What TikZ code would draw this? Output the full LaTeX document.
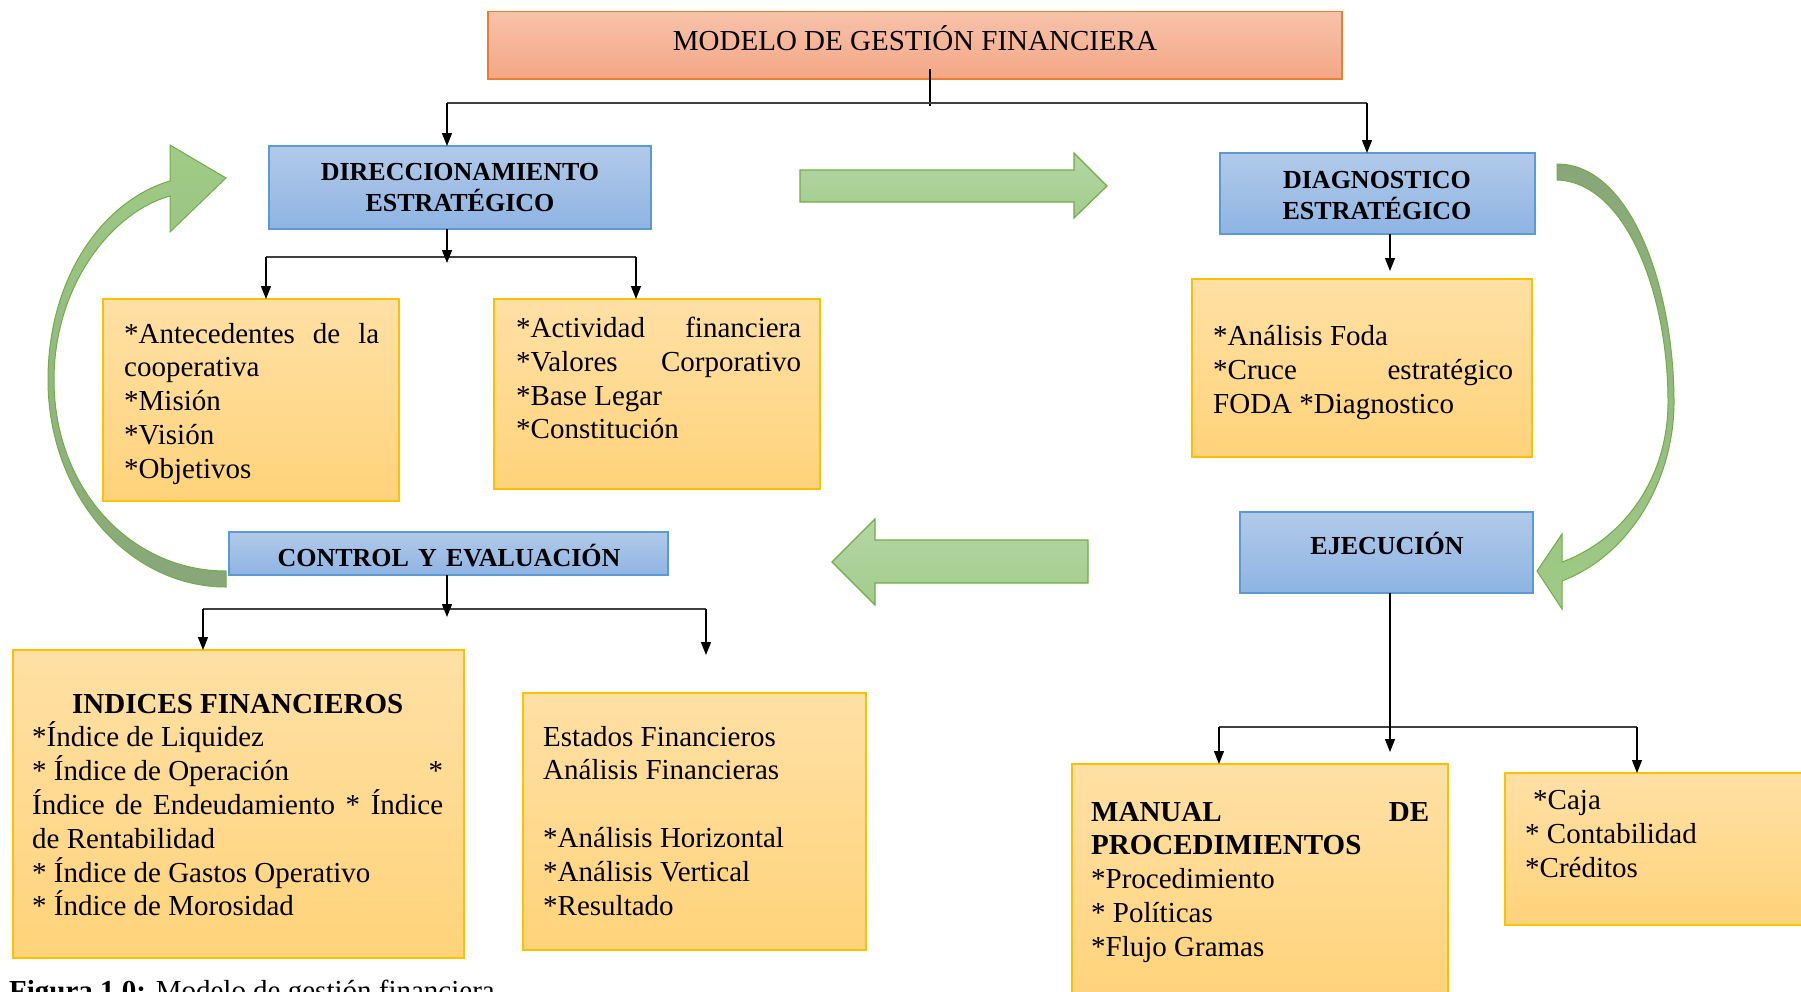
\documentclass[tikz,border=0pt]{standalone}
\usepackage{fontspec}
\setmainfont{Liberation Serif}
\usetikzlibrary{arrows.meta}

\definecolor{titleTop}{RGB}{247,194,170}
\definecolor{titleBot}{RGB}{244,167,133}
\definecolor{titleLine}{RGB}{237,125,49}
\definecolor{blueTop}{RGB}{178,202,233}
\definecolor{blueBot}{RGB}{142,180,227}
\definecolor{blueLine}{RGB}{91,155,213}
\definecolor{orTop}{RGB}{255,224,165}
\definecolor{orBot}{RGB}{255,211,122}
\definecolor{orLine}{RGB}{255,192,0}
\definecolor{grTop}{RGB}{181,214,165}
\definecolor{grBot}{RGB}{162,204,140}
\definecolor{grLine}{RGB}{112,173,71}
\definecolor{curveDark}{RGB}{136,166,120}
\definecolor{curveLight}{RGB}{160,204,134}
\definecolor{busGrey}{RGB}{64,64,64}

% line break that leaves a following * alone
\newcommand{\nxl}{\\\relax}
% a line spread over the full text width
\newcommand{\jline}[1]{\makebox[\linewidth][s]{\spaceskip=0pt\xspaceskip=0pt #1}}
% font's own interword spacing inside centred headings
\newcommand{\natsp}{\spaceskip=0pt\xspaceskip=0pt}

\begin{document}
\begin{tikzpicture}[x=1pt,y=-1pt,
  box/.style={anchor=north west, inner sep=0pt, outer sep=0pt, line width=1.2pt},
  titlebox/.style={box, draw=titleLine, top color=titleTop, bottom color=titleBot},
  bluebox/.style={box, draw=blueLine, top color=blueTop, bottom color=blueBot},
  orbox/.style={box, draw=orLine, top color=orTop, bottom color=orBot},
  body/.style={anchor=base west, inner sep=0pt, text width=#1, align=justify,
    font=\fontsize{29}{33.8}\selectfont},
  head/.style={anchor=base, inner sep=0pt, text width=#1, align=center,
    font=\fontsize{26}{31}\selectfont\bfseries},
  conn/.style={line width=1.2pt, black},
  arr/.style={conn, -{Triangle[length=13pt, width=10pt]}},
  bus/.style={line width=1.8pt, busGrey},
  bigarrow/.style={draw=grLine, line width=1.2pt, top color=grTop, bottom color=grBot},
  bendarrow/.style={draw=grLine, line width=1pt},
]
\useasboundingbox (0,0) rectangle (1801,991);

% ---- boxes ----
\node[titlebox, minimum width=854pt, minimum height=67.5pt] (title) at (488,11.5) {};
\node[bluebox, minimum width=382pt, minimum height=83pt] (dir) at (269,146) {};
\node[bluebox, minimum width=315pt, minimum height=81pt] (diag) at (1220,153) {};
\node[orbox, minimum width=296pt, minimum height=202pt] (ante) at (103,299) {};
\node[orbox, minimum width=326pt, minimum height=190pt] (act) at (494,299) {};
\node[orbox, minimum width=340pt, minimum height=178pt] (foda) at (1192,279) {};
\node[bluebox, minimum width=439pt, minimum height=43pt] (ctrl) at (229,532) {};
\node[bluebox, minimum width=293pt, minimum height=81pt] (ejec) at (1240,512) {};
\node[orbox, minimum width=451pt, minimum height=308pt] (ind) at (13,650) {};
\node[orbox, minimum width=343pt, minimum height=257pt] (est) at (523,693) {};
\node[orbox, minimum width=376pt, minimum height=240pt] (man) at (1072,764) {};
\node[orbox, minimum width=310pt, minimum height=152pt] (caja) at (1505,773) {};

% ---- box texts ----
\node[anchor=base, inner sep=0pt, font=\fontsize{29}{34}\selectfont] (titletxt) at (915,50.5) {MODELO DE GESTIÓN FINANCIERA};
\node[head=380pt] (dirtxt) at (460,180) {DIRECCIONAMIENTO\\ESTRATÉGICO};
\node[head=310pt] (diagtxt) at (1377,188) {DIAGNOSTICO\\ESTRATÉGICO};
\node[head=430pt] (ctrltxt) at (449,566) {\natsp CONTROL Y EVALUACIÓN};
\node[head=280pt] (ejectxt) at (1387,554) {EJECUCIÓN};

\node[body=255pt] (antetxt) at (124,343) {\jline{*Antecedentes de la}\nxl
cooperativa\nxl
*Misión\nxl
*Visión\nxl
*Objetivos};

\node[body=285pt] (acttxt) at (516,337.5) {\jline{*Actividad financiera}\nxl
\jline{*Valores Corporativo}\nxl
*Base Legar\nxl
*Constitución};

\node[body=300pt] (fodatxt) at (1213,345.5) {*Análisis Foda\nxl
\jline{*Cruce estratégico}\nxl
FODA *Diagnostico};

\node[body=411pt] (indtxt) at (32,713) {\makebox[\linewidth][c]{\bfseries\natsp INDICES FINANCIEROS}\nxl
*Índice de Liquidez\nxl
\makebox[\linewidth][l]{\natsp * Índice de Operación\hfill*}\nxl
\jline{Índice de Endeudamiento * Índice}\nxl
de Rentabilidad\nxl
* Índice de Gastos Operativo\nxl
* Índice de Morosidad};

\node[body=300pt] (esttxt) at (543,746) {Estados Financieros\nxl
Análisis Financieras\nxl
\mbox{}\nxl
*Análisis Horizontal\nxl
*Análisis Vertical\nxl
*Resultado};

\node[body=338pt] (mantxt) at (1091,821) {\jline{\bfseries MANUAL DE}\nxl
{\bfseries PROCEDIMIENTOS}\nxl
*Procedimiento\nxl
* Políticas\nxl
*Flujo Gramas};

\node[body=260pt] (cajatxt) at (1525,809.5) {\hspace*{8pt}*Caja\nxl
* Contabilidad\nxl
*Créditos};

% ---- connectors ----
\coordinate (topbus) at (930,103);
\coordinate (busL) at (447,103);
\coordinate (busR) at (1367,103);
\draw[conn] ([yshift=10pt]title.south -| topbus) -- ([yshift=-3pt]topbus);
\draw[bus] (busL) -- (busR);
\draw[arr] (busL) -- (dir.north -| busL);
\draw[arr] (busR) -- (diag.north -| busR);

\coordinate (dirbus) at (447,257);
\coordinate (dirL) at (266,257);
\coordinate (dirR) at (636,257);
\draw[bus] (dirL) -- (dirR);
\draw[arr] (dir.south -| dirbus) -- ([yshift=-6pt]dirbus);
\draw[arr] (dirL) -- (ante.north -| dirL);
\draw[arr] (dirR) -- (act.north -| dirR);

\coordinate (fodaTip) at (1390,271);
\draw[arr] (diag.south -| fodaTip) -- (fodaTip);

\coordinate (ctrlbus) at (447,609);
\coordinate (ctrlL) at (203,609);
\coordinate (ctrlR) at (706,609);
\coordinate (ctrlEnd) at (706,655);
\draw[bus] (ctrlL) -- (ctrlR);
\draw[arr] (ctrl.south -| ctrlbus) -- ([yshift=-8pt]ctrlbus);
\draw[arr] (ctrlL) -- (ind.north -| ctrlL);
\draw[arr] (ctrlR) -- (ctrlEnd);

\coordinate (ejbus) at (1390,727);
\coordinate (ejTip) at (1390,752);
\coordinate (ejL) at (1219,727);
\coordinate (ejR) at (1637,727);
\draw[bus] (ejL) -- (ejR);
\draw[arr] (ejec.south -| ejbus) -- (ejTip);
\draw[arr] (ejL) -- (man.north -| ejL);
\draw[arr] (ejR) -- (caja.north -| ejR);

% ---- block arrows between stages ----
\shadedraw[bigarrow] (800,170) -- (1074,170) -- (1074,153) -- (1107,186)
  -- (1074,218) -- (1074,202) -- (800,202) -- cycle;
\shadedraw[bigarrow] (1088,540) -- (875,540) -- (875,519) -- (832,562)
  -- (875,605) -- (875,583) -- (1088,583) -- cycle;

% ---- bent arrows closing the cycle ----
\shadedraw[bendarrow, top color=curveLight, bottom color=curveDark]
  (226,587) .. controls (128,587) and (48,494) .. (48,380)
  .. controls (48,275) and (105,200) .. (170,181)
  -- (170,145) -- (226,178) -- (170,232) -- (170,196)
  .. controls (112,212) and (54,285) .. (54,380)
  .. controls (54,488) and (130,571) .. (226,571) -- cycle;

\shadedraw[bendarrow, top color=curveDark, bottom color=curveLight]
  (1557,164) .. controls (1632,164) and (1674,290) .. (1674,402)
  .. controls (1674,480) and (1630,555) .. (1562,581)
  -- (1562,609) -- (1537,571) -- (1562,534) -- (1562,562)
  .. controls (1622,540) and (1668,480) .. (1668,402)
  .. controls (1668,292) and (1625,182) .. (1557,180) -- cycle;

% ---- caption ----
\node[anchor=base west, inner sep=0pt, font=\fontsize{29}{34}\selectfont] (caption) at (9,1000)
  {\textbf{Figura 1.0:} Modelo de gestión financiera};
\end{tikzpicture}
\end{document}
